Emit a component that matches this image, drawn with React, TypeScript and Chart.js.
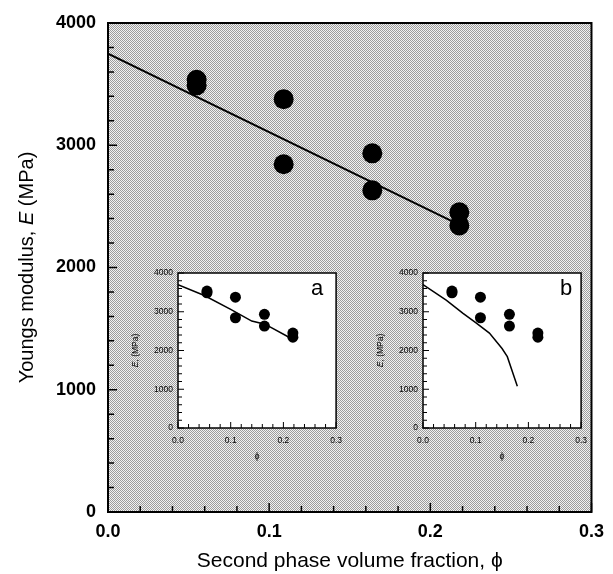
import React, { useEffect, useRef } from "react";
import { Chart, registerables } from "chart.js";

Chart.register(...registerables);

// ---------- data ----------
const phiValues = [0.055, 0.055, 0.109, 0.109, 0.164, 0.164, 0.218, 0.218];
const modulusValues = [3535, 3490, 3377, 2845, 2934, 2631, 2451, 2344];

const fitPhi = [0, 0.214];
const fitModulus = [3750, 2375];

const insetAPhi = [0, 0.05, 0.1, 0.14, 0.165, 0.215];
const insetAModulus = [3700, 3420, 3060, 2760, 2680, 2310];

const insetBPhi = [0, 0.044, 0.076, 0.1, 0.126, 0.15, 0.16, 0.179];
const insetBModulus = [3700, 3300, 2960, 2720, 2450, 2050, 1840, 1080];

const xTickValues = [0, 0.1, 0.2, 0.3];
const yTickValues = [0, 1000, 2000, 3000, 4000];

const FONT = "'Liberation Sans', Arial, Helvetica, sans-serif";

type Part = { text: string; italic?: boolean };

function makeTile(): HTMLCanvasElement {
  const c = document.createElement("canvas");
  c.width = 2;
  c.height = 2;
  const g = c.getContext("2d")!;
  g.fillStyle = "#f2f2f2";
  g.fillRect(0, 0, 2, 2);
  g.fillStyle = "#9c9c9c";
  g.fillRect(0, 0, 1, 1);
  g.fillRect(1, 1, 1, 1);
  return c;
}

function framePlugin(cfg: {
  stipple: boolean;
  major: number;
  minor: number;
  tickWidth: number;
  borderWidth: number;
  xMinor: number;
  yMinor: number;
  letter?: string;
  letterSize?: number;
  letterRight?: number;
  letterBaseline?: number;
}) {
  return {
    id: "frameTicks",
    beforeDatasetsDraw(chart: any) {
      const { ctx, chartArea: a } = chart;
      ctx.save();
      ctx.fillStyle = cfg.stipple ? ctx.createPattern(makeTile(), "repeat") : "#ffffff";
      ctx.fillRect(a.left, a.top, a.right - a.left, a.bottom - a.top);
      ctx.restore();
    },
    afterDraw(chart: any) {
      const { ctx, chartArea: a } = chart;
      const xs = chart.scales.x;
      const ys = chart.scales.y;
      ctx.save();
      ctx.strokeStyle = "#000";
      ctx.lineWidth = cfg.tickWidth;
      ctx.beginPath();
      const nx = Math.round((xs.max - xs.min) / cfg.xMinor);
      for (let i = 0; i <= nx; i++) {
        const v = xs.min + i * cfg.xMinor;
        const len = i % 5 === 0 ? cfg.major : cfg.minor;
        const px = xs.getPixelForValue(v);
        ctx.moveTo(px, a.bottom);
        ctx.lineTo(px, a.bottom - len);
      }
      const ny = Math.round((ys.max - ys.min) / cfg.yMinor);
      for (let i = 0; i <= ny; i++) {
        const v = ys.min + i * cfg.yMinor;
        const len = i % 5 === 0 ? cfg.major : cfg.minor;
        const py = ys.getPixelForValue(v);
        ctx.moveTo(a.left, py);
        ctx.lineTo(a.left + len, py);
      }
      ctx.stroke();
      ctx.lineWidth = cfg.borderWidth;
      ctx.strokeRect(a.left, a.top, a.right - a.left, a.bottom - a.top);
      if (cfg.letter) {
        ctx.fillStyle = "#000";
        ctx.font = `${cfg.letterSize}px ${FONT}`;
        ctx.textAlign = "center";
        ctx.textBaseline = "alphabetic";
        ctx.fillText(cfg.letter, a.right - (cfg.letterRight || 0), a.top + (cfg.letterBaseline || 0));
      }
      ctx.restore();
    },
  };
}

function yTitlePlugin(cfg: { x: number; size: number; parts: Part[] }) {
  return {
    id: "yTitleMixed",
    afterDraw(chart: any) {
      const { ctx, chartArea: a } = chart;
      const cy = (a.top + a.bottom) / 2;
      ctx.save();
      ctx.translate(cfg.x, cy);
      ctx.rotate(-Math.PI / 2);
      ctx.fillStyle = "#000";
      ctx.textBaseline = "middle";
      ctx.textAlign = "left";
      const fonts = cfg.parts.map((p) => `${p.italic ? "italic " : ""}${cfg.size}px ${FONT}`);
      let total = 0;
      cfg.parts.forEach((p, i) => {
        ctx.font = fonts[i];
        total += ctx.measureText(p.text).width;
      });
      let x = -total / 2;
      cfg.parts.forEach((p, i) => {
        ctx.font = fonts[i];
        ctx.fillText(p.text, x, 0);
        x += ctx.measureText(p.text).width;
      });
      ctx.restore();
    },
  };
}

function pts(xs: number[], ys: number[]) {
  return xs.map((x, i) => ({ x, y: ys[i] }));
}

function scaleOpts(opts: {
  axis: "x" | "y";
  min: number;
  max: number;
  ticks: number[];
  fmt: (v: number) => string;
  font: any;
  padding: number;
  size: number;
  title?: any;
}) {
  return {
    type: "linear",
    min: opts.min,
    max: opts.max,
    grid: { display: false, drawTicks: false },
    border: { display: false },
    afterBuildTicks: (s: any) => {
      s.ticks = opts.ticks.map((v) => ({ value: v }));
    },
    ticks: {
      callback: (v: any) => opts.fmt(Number(v)),
      font: opts.font,
      color: "#000",
      padding: opts.padding,
      maxRotation: 0,
      minRotation: 0,
      autoSkip: false,
    },
    title: opts.title || { display: false },
    afterFit: (s: any) => {
      if (opts.axis === "x") s.height = opts.size;
      else s.width = opts.size;
    },
  };
}

function MainChart() {
  const ref = useRef<HTMLCanvasElement>(null);
  useEffect(() => {
    const chart = new Chart(ref.current!, {
      type: "scatter",
      data: {
        datasets: [
          {
            data: pts(fitPhi, fitModulus),
            showLine: true,
            borderColor: "#000",
            borderWidth: 2,
            pointRadius: 0,
            order: 2,
          } as any,
          {
            data: pts(phiValues, modulusValues),
            pointRadius: 10,
            backgroundColor: "#000",
            borderColor: "#000",
            borderWidth: 0,
            order: 1,
          },
        ],
      },
      options: {
        animation: false,
        responsive: false,
        events: [],
        layout: { padding: { top: 23, right: 15, left: 0, bottom: 0 } },
        plugins: { legend: { display: false }, tooltip: { enabled: false } },
        scales: {
          x: scaleOpts({
            axis: "x",
            min: 0,
            max: 0.3,
            ticks: xTickValues,
            fmt: (v) => v.toFixed(1),
            font: { family: FONT, size: 18, weight: "bold" },
            padding: 9,
            size: 62,
            title: {
              display: true,
              text: "Second phase volume fraction, ϕ",
              font: { family: FONT, size: 21 },
              color: "#000",
              padding: { top: 0, bottom: 0 },
            },
          }),
          y: scaleOpts({
            axis: "y",
            min: 0,
            max: 4000,
            ticks: yTickValues,
            fmt: (v) => String(v),
            font: { family: FONT, size: 18, weight: "bold" },
            padding: 12,
            size: 108,
          }),
        } as any,
      },
      plugins: [
        framePlugin({ stipple: true, major: 9, minor: 6, tickWidth: 1.5, borderWidth: 2, xMinor: 0.02, yMinor: 200 }),
        yTitlePlugin({
          x: 27,
          size: 20,
          parts: [{ text: "Youngs modulus, " }, { text: "E", italic: true }, { text: " (MPa)" }],
        }),
      ],
    });
    return () => chart.destroy();
  }, []);
  return (
    <canvas
      ref={ref}
      width={613}
      height={574}
      style={{ position: "absolute", left: 0, top: 0, width: 613, height: 574 }}
    />
  );
}

function InsetChart(props: {
  left: number;
  top: number;
  curvePhi: number[];
  curveModulus: number[];
  letter: string;
  rightPad: number;
  letterRight: number;
}) {
  const ref = useRef<HTMLCanvasElement>(null);
  useEffect(() => {
    const chart = new Chart(ref.current!, {
      type: "scatter",
      data: {
        datasets: [
          {
            data: pts(props.curvePhi, props.curveModulus),
            showLine: true,
            borderColor: "#000",
            borderWidth: 1.5,
            pointRadius: 0,
            order: 2,
          } as any,
          {
            data: pts(phiValues, modulusValues),
            pointRadius: 5.5,
            backgroundColor: "#000",
            borderColor: "#000",
            borderWidth: 0,
            order: 1,
          },
        ],
      },
      options: {
        animation: false,
        responsive: false,
        events: [],
        layout: { padding: { top: 11, right: props.rightPad, left: 0, bottom: 0 } },
        plugins: { legend: { display: false }, tooltip: { enabled: false } },
        scales: {
          x: scaleOpts({
            axis: "x",
            min: 0,
            max: 0.3,
            ticks: xTickValues,
            fmt: (v) => v.toFixed(1),
            font: { family: FONT, size: 8.5 },
            padding: 8,
            size: 39,
            title: {
              display: true,
              text: "ϕ",
              font: { family: FONT, size: 9 },
              color: "#000",
              padding: { top: 0, bottom: 5 },
            },
          }),
          y: scaleOpts({
            axis: "y",
            min: 0,
            max: 4000,
            ticks: yTickValues,
            fmt: (v) => String(v),
            font: { family: FONT, size: 8.5 },
            padding: 5,
            size: 53,
          }),
        } as any,
      },
      plugins: [
        framePlugin({
          stipple: false,
          major: 6,
          minor: 4,
          tickWidth: 1,
          borderWidth: 1.5,
          xMinor: 0.02,
          yMinor: 200,
          letter: props.letter,
          letterSize: 22,
          letterRight: props.letterRight,
          letterBaseline: 22,
        }),
        yTitlePlugin({
          x: 11,
          size: 8.5,
          parts: [{ text: "E", italic: true }, { text: ", (MPa)" }],
        }),
      ],
    });
    return () => chart.destroy();
  }, []);
  return (
    <canvas
      ref={ref}
      width={225}
      height={205}
      style={{ position: "absolute", left: props.left, top: props.top, width: 225, height: 205 }}
    />
  );
}

export default function App() {
  return (
    <div style={{ position: "absolute", left: 0, top: 0, width: 613, height: 574, background: "#fff" }}>
      <MainChart />
      <InsetChart
        left={125}
        top={262}
        curvePhi={insetAPhi}
        curveModulus={insetAModulus}
        letter="a"
        rightPad={11}
        letterRight={19}
      />
      <InsetChart
        left={370}
        top={262}
        curvePhi={insetBPhi}
        curveModulus={insetBModulus}
        letter="b"
        rightPad={12}
        letterRight={15}
      />
    </div>
  );
}
